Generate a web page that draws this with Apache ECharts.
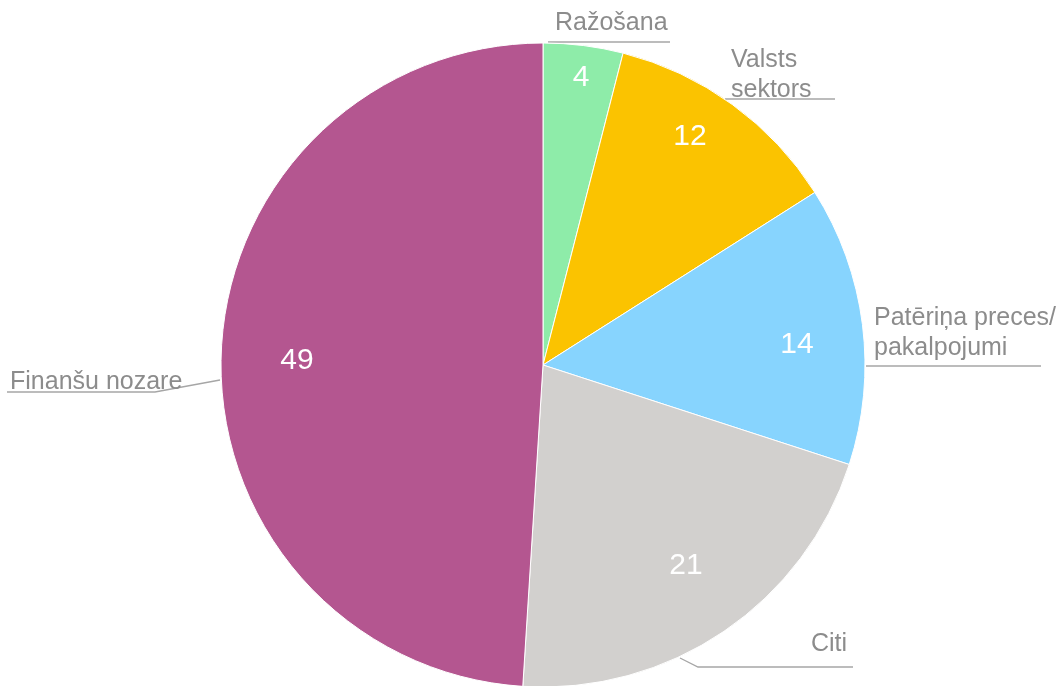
<!DOCTYPE html>
<html>
<head>
<meta charset="utf-8">
<script src="https://cdn.jsdelivr.net/npm/echarts@6/dist/echarts.min.js"></script>
<style>
html,body{margin:0;padding:0;background:#fff;}
#main{width:1060px;height:686px;}
</style>
</head>
<body>
<div id="main"></div>
<script>
// ---- data ----
const categories = ['Ražošana', 'Valsts\nsektors', 'Patēriņa preces/\npakalpojumi', 'Citi', 'Finanšu nozare'];
const values = [4, 12, 14, 21, 49];
const colors = ['#8EECA9', '#FBC300', '#87D4FE', '#D2D0CE', '#B45690'];

// ---- layout (label placement only) ----
const outerLabelLayout = [
  {x: 555, y: 38, align: 'left',  line: [[548, 42], [560, 42], [670, 42]]},
  {x: 731, y: 105, align: 'left', line: [[725, 99], [730, 99], [835, 99]]},
  {x: 874, y: 363, align: 'left', line: [[866, 366], [870, 366], [1041, 366]]},
  {x: 847, y: 659, align: 'right', line: [[680, 658], [698, 667], [853, 667]]},
  {x: 10,  y: 397, align: 'left', line: [[220, 380], [155, 392], [7, 392]]}
];
const innerLabelPos = [[581, 78], [690, 137], [797, 345], [686, 566], [297, 361]];

const CENTER = [543, 365];
const RADIUS = 322;
const FONT = '"Liberation Sans", Arial, sans-serif';

const dataItems = categories.map((c, i) => ({name: c, value: values[i], itemStyle: {color: colors[i]}}));

const chart = echarts.init(document.getElementById('main'), null, {renderer: 'canvas'});
chart.setOption({
  backgroundColor: '#ffffff',
  animation: false,
  series: [
    {
      type: 'pie',
      center: CENTER,
      radius: [0, RADIUS],
      startAngle: 90,
      clockwise: true,
      silent: true,
      avoidLabelOverlap: false,
      itemStyle: {borderColor: '#ffffff', borderWidth: 1},
      label: {
        show: true,
        position: 'outside',
        formatter: '{b}',
        color: '#8c8c8c',
        fontFamily: FONT,
        fontSize: 25,
        lineHeight: 30,
        overflow: 'none',
        width: 300
      },
      labelLine: {show: true, length: 10, length2: 10, lineStyle: {color: '#a6a6a6', width: 1.3}},
      labelLayout: function (p) {
        const L = outerLabelLayout[p.dataIndex];
        return {x: L.x, y: L.y, align: L.align, verticalAlign: 'bottom', labelLinePoints: L.line};
      },
      data: dataItems
    },
    {
      type: 'pie',
      center: CENTER,
      radius: [0, RADIUS],
      startAngle: 90,
      clockwise: true,
      silent: true,
      itemStyle: {color: 'rgba(0,0,0,0)'},
      label: {
        show: true,
        position: 'inside',
        formatter: '{c}',
        color: '#ffffff',
        fontFamily: FONT,
        fontSize: 30
      },
      labelLine: {show: false},
      labelLayout: function (p) {
        const q = innerLabelPos[p.dataIndex];
        return {x: q[0], y: q[1], align: 'center', verticalAlign: 'middle'};
      },
      data: categories.map((c, i) => ({name: c, value: values[i]}))
    }
  ]
});
</script>
</body>
</html>
